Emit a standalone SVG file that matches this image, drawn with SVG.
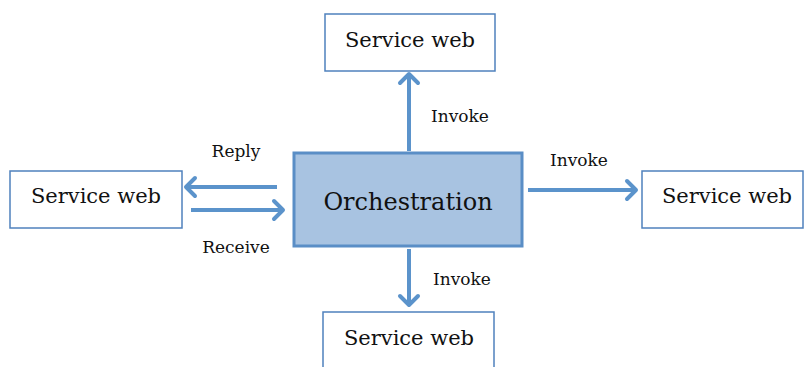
<svg xmlns="http://www.w3.org/2000/svg" width="805" height="367" viewBox="0 0 805 367">
  <defs>
    <marker id="chev" markerUnits="userSpaceOnUse" markerWidth="20" markerHeight="24" refX="12" refY="12" orient="auto">
      <path d="M3,3 L12,12 L3,21" fill="none" stroke="#5b93cb" stroke-width="4" stroke-linecap="round" stroke-linejoin="round"/>
    </marker>
  </defs>
  <style>
    .svc { fill: #ffffff; stroke: #4f81bd; stroke-width: 1.5; }
    .orc { fill: #a8c3e1; stroke: #5a8ec6; stroke-width: 3; }
    .lbl { font-family: "DejaVu Serif", "Liberation Serif", serif; fill: #111111; }
    .big { font-size: 21px; }
    .small { font-size: 17px; }
    .edge { stroke: #5b93cb; stroke-width: 4; fill: none; marker-end: url(#chev); }
  </style>
  <rect width="805" height="367" fill="#ffffff"/>

  <g id="connectors">
    <line class="edge" x1="409" y1="151" x2="409" y2="74"/>
    <line class="edge" x1="409" y1="249" x2="409" y2="305"/>
    <line class="edge" x1="277" y1="187" x2="186" y2="187"/>
    <line class="edge" x1="191" y1="210" x2="283" y2="210"/>
    <line class="edge" x1="528" y1="190" x2="636" y2="190"/>
  </g>

  <g id="labels">
    <text class="lbl small" x="236" y="157" text-anchor="middle">Reply</text>
    <text class="lbl small" x="236" y="253" text-anchor="middle">Receive</text>
    <text class="lbl small" x="460" y="122" text-anchor="middle">Invoke</text>
    <text class="lbl small" x="579" y="166" text-anchor="middle">Invoke</text>
    <text class="lbl small" x="462" y="285" text-anchor="middle">Invoke</text>
  </g>

  <g id="orchestration">
    <rect class="orc" x="294" y="153" width="228" height="93"/>
    <text class="lbl" x="408" y="210" text-anchor="middle" font-size="24">Orchestration</text>
  </g>

  <g id="service-top">
    <rect class="svc" x="325" y="14" width="170" height="57"/>
    <text class="lbl big" x="410" y="47" text-anchor="middle">Service web</text>
  </g>

  <g id="service-left">
    <rect class="svc" x="10" y="171" width="172" height="57"/>
    <text class="lbl big" x="96" y="203" text-anchor="middle">Service web</text>
  </g>

  <g id="service-right">
    <rect class="svc" x="642" y="171" width="161" height="57"/>
    <text class="lbl big" x="727" y="203" text-anchor="middle">Service web</text>
  </g>

  <g id="service-bottom">
    <rect class="svc" x="323" y="312" width="171" height="60"/>
    <text class="lbl big" x="409" y="345" text-anchor="middle">Service web</text>
  </g>
</svg>
